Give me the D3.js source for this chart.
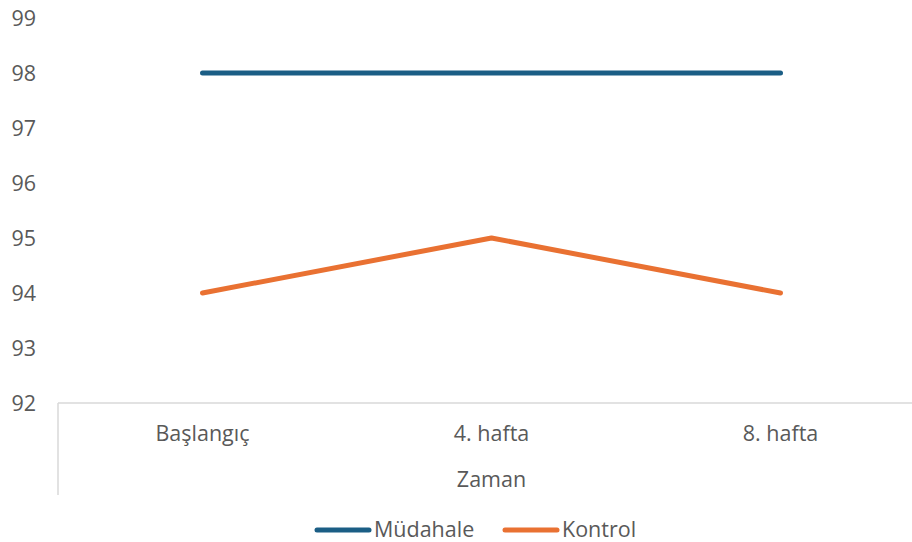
<!DOCTYPE html>
<html>
<head>
<meta charset="utf-8">
<script src="https://cdn.jsdelivr.net/npm/d3@7"></script>
<style>
  body { margin: 0; background: #fff; }
  text { font-family: "Open Sans", sans-serif; fill: #595959; }
</style>
</head>
<body>
<svg id="chart" width="912" height="542"></svg>
<script>
const categories = ["Başlangıç", "4. hafta", "8. hafta"];
const mudahale = [98, 98, 98];
const kontrol = [94, 95, 94];
const yTicks = [92, 93, 94, 95, 96, 97, 98, 99];
const seriesNames = ["Müdahale", "Kontrol"];
const colors = ["#1b5e85", "#e97132"];

const svg = d3.select("#chart");
const plotLeft = 58, plotRight = 925, plotTop = 18, plotBottom = 403;
const fontSize = "21.5px";

const x = d3.scaleBand().domain(categories).range([plotLeft, plotRight]);
const y = d3.scaleLinear().domain([92, 99]).range([plotBottom, plotTop]);

// y tick labels (no gridlines)
svg.append("g").selectAll("text")
    .data(yTicks)
    .join("text")
    .attr("x", 36)
    .attr("y", d => y(d))
    .attr("dy", "0.35em")
    .attr("text-anchor", "end")
    .style("font-size", fontSize)
    .text(d => d);

// x axis line + group separator
svg.append("line")
    .attr("x1", plotLeft).attr("x2", plotRight)
    .attr("y1", plotBottom).attr("y2", plotBottom)
    .attr("stroke", "#d9d9d9").attr("stroke-width", 1.5);
svg.append("line")
    .attr("x1", plotLeft).attr("x2", plotLeft)
    .attr("y1", plotBottom).attr("y2", 495)
    .attr("stroke", "#d9d9d9").attr("stroke-width", 1.5);

svg.append("g").selectAll("text")
    .data(categories)
    .join("text")
    .attr("x", d => x(d) + x.bandwidth() / 2)
    .attr("y", 433)
    .attr("dy", "0.35em")
    .attr("text-anchor", "middle")
    .style("font-size", fontSize)
    .text(d => d);

svg.append("text")
    .attr("x", (plotLeft + plotRight) / 2)
    .attr("y", 479)
    .attr("dy", "0.35em")
    .attr("text-anchor", "middle")
    .style("font-size", fontSize)
    .text("Zaman");

const line = d3.line()
    .x((_, i) => x(categories[i]) + x.bandwidth() / 2)
    .y(d => y(d));

[mudahale, kontrol].forEach((data, i) => {
    svg.append("path")
        .datum(data)
        .attr("d", line)
        .attr("fill", "none")
        .attr("stroke", colors[i])
        .attr("stroke-width", 5)
        .attr("stroke-linecap", "round")
        .attr("stroke-linejoin", "round");
});

// legend
const legendItems = [{ x: 317, name: seriesNames[0] }, { x: 505, name: seriesNames[1] }];
legendItems.forEach((item, i) => {
    svg.append("line")
        .attr("x1", item.x).attr("x2", item.x + 52)
        .attr("y1", 530).attr("y2", 530)
        .attr("stroke", colors[i])
        .attr("stroke-width", 5)
        .attr("stroke-linecap", "round");
    svg.append("text")
        .attr("x", item.x + 57)
        .attr("y", 529)
        .attr("dy", "0.35em")
        .style("font-size", fontSize)
        .text(item.name);
});
</script>
</body>
</html>
